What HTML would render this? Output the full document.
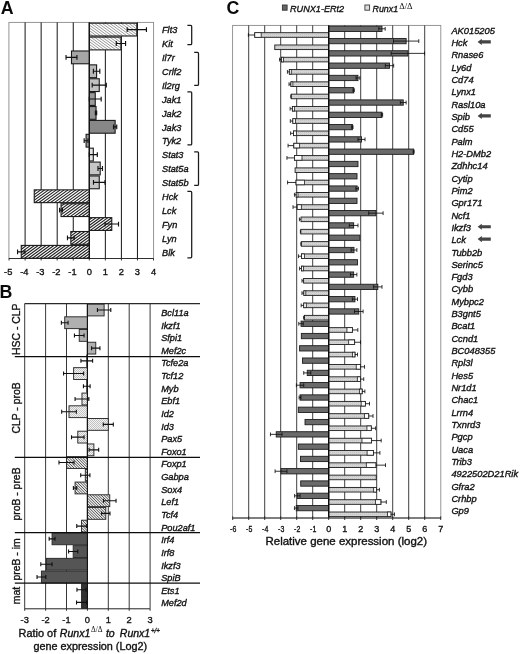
<!DOCTYPE html>
<html lang="en"><head><meta charset="utf-8"><title>Figure</title>
<style>html,body{margin:0;padding:0;background:#fff}body{width:520px;height:654px;overflow:hidden}</style></head>
<body>
<svg width="520" height="654" viewBox="0 0 520 654" style="display:block">
<defs>
<pattern id="dt" width="2" height="2" patternUnits="userSpaceOnUse"><rect width="2" height="2" fill="#f3f3f3"/><rect width="1" height="1" fill="#c2c2c2"/><rect x="1" y="1" width="1" height="1" fill="#c2c2c2"/></pattern>
<pattern id="lt" width="2" height="2" patternUnits="userSpaceOnUse"><rect width="2" height="2" fill="#d4d4d4"/><rect width="1" height="1" fill="#c4c4c4"/></pattern>
</defs>
<rect width="520" height="654" fill="#fff"/>
<text x="0.7" y="13.8" font-family="Liberation Sans, Arial, sans-serif" font-size="17.8" font-weight="bold" fill="#0a0a0a">A</text>
<rect x="8.9" y="22.4" width="144.7" height="236.1" fill="#fff" stroke="#8a8a8a" stroke-width="0.9"/>
<line x1="25.10" y1="22.4" x2="25.10" y2="258.5" stroke="#151515" stroke-width="1"/>
<line x1="41.15" y1="22.4" x2="41.15" y2="258.5" stroke="#151515" stroke-width="1"/>
<line x1="57.20" y1="22.4" x2="57.20" y2="258.5" stroke="#151515" stroke-width="1"/>
<line x1="73.25" y1="22.4" x2="73.25" y2="258.5" stroke="#151515" stroke-width="1"/>
<line x1="89.30" y1="22.4" x2="89.30" y2="258.5" stroke="#151515" stroke-width="1"/>
<line x1="105.35" y1="22.4" x2="105.35" y2="258.5" stroke="#151515" stroke-width="1"/>
<line x1="121.40" y1="22.4" x2="121.40" y2="258.5" stroke="#151515" stroke-width="1"/>
<line x1="137.45" y1="22.4" x2="137.45" y2="258.5" stroke="#151515" stroke-width="1"/>
<line x1="8.9" y1="258.5" x2="153.6" y2="258.5" stroke="#222" stroke-width="0.9"/>
<line x1="9.05" y1="258.5" x2="9.05" y2="260.5" stroke="#222" stroke-width="0.9"/>
<text x="8.25" y="275.2" font-family="Liberation Sans, Arial, sans-serif" stroke="#111" stroke-width="0.35" font-size="9.3" text-anchor="middle" fill="#111">-5</text>
<line x1="25.10" y1="258.5" x2="25.10" y2="260.5" stroke="#222" stroke-width="0.9"/>
<text x="24.30" y="275.2" font-family="Liberation Sans, Arial, sans-serif" stroke="#111" stroke-width="0.35" font-size="9.3" text-anchor="middle" fill="#111">-4</text>
<line x1="41.15" y1="258.5" x2="41.15" y2="260.5" stroke="#222" stroke-width="0.9"/>
<text x="40.35" y="275.2" font-family="Liberation Sans, Arial, sans-serif" stroke="#111" stroke-width="0.35" font-size="9.3" text-anchor="middle" fill="#111">-3</text>
<line x1="57.20" y1="258.5" x2="57.20" y2="260.5" stroke="#222" stroke-width="0.9"/>
<text x="56.40" y="275.2" font-family="Liberation Sans, Arial, sans-serif" stroke="#111" stroke-width="0.35" font-size="9.3" text-anchor="middle" fill="#111">-2</text>
<line x1="73.25" y1="258.5" x2="73.25" y2="260.5" stroke="#222" stroke-width="0.9"/>
<text x="72.45" y="275.2" font-family="Liberation Sans, Arial, sans-serif" stroke="#111" stroke-width="0.35" font-size="9.3" text-anchor="middle" fill="#111">-1</text>
<line x1="89.30" y1="258.5" x2="89.30" y2="260.5" stroke="#222" stroke-width="0.9"/>
<text x="89.30" y="275.2" font-family="Liberation Sans, Arial, sans-serif" stroke="#111" stroke-width="0.35" font-size="9.3" text-anchor="middle" fill="#111">0</text>
<line x1="105.35" y1="258.5" x2="105.35" y2="260.5" stroke="#222" stroke-width="0.9"/>
<text x="105.35" y="275.2" font-family="Liberation Sans, Arial, sans-serif" stroke="#111" stroke-width="0.35" font-size="9.3" text-anchor="middle" fill="#111">1</text>
<line x1="121.40" y1="258.5" x2="121.40" y2="260.5" stroke="#222" stroke-width="0.9"/>
<text x="121.40" y="275.2" font-family="Liberation Sans, Arial, sans-serif" stroke="#111" stroke-width="0.35" font-size="9.3" text-anchor="middle" fill="#111">2</text>
<line x1="137.45" y1="258.5" x2="137.45" y2="260.5" stroke="#222" stroke-width="0.9"/>
<text x="137.45" y="275.2" font-family="Liberation Sans, Arial, sans-serif" stroke="#111" stroke-width="0.35" font-size="9.3" text-anchor="middle" fill="#111">3</text>
<line x1="153.50" y1="258.5" x2="153.50" y2="260.5" stroke="#222" stroke-width="0.9"/>
<text x="153.50" y="275.2" font-family="Liberation Sans, Arial, sans-serif" stroke="#111" stroke-width="0.35" font-size="9.3" text-anchor="middle" fill="#111">4</text>
<clipPath id="hc1"><rect x="89.30" y="23.20" width="47.51" height="12.79"/><rect x="89.30" y="37.09" width="31.62" height="12.79"/></clipPath>
<g clip-path="url(#hc1)"><rect x="89.30" y="23.20" width="47.51" height="26.68" fill="#fdfdfd"/><path d="M52.58 23.20L89.30 49.88M56.38 23.20L93.10 49.88M60.18 23.20L96.90 49.88M63.98 23.20L100.70 49.88M67.78 23.20L104.50 49.88M71.58 23.20L108.30 49.88M75.38 23.20L112.10 49.88M79.18 23.20L115.90 49.88M82.98 23.20L119.70 49.88M86.78 23.20L123.50 49.88M90.58 23.20L127.30 49.88M94.38 23.20L131.10 49.88M98.18 23.20L134.90 49.88M101.98 23.20L138.70 49.88M105.78 23.20L142.50 49.88M109.58 23.20L146.30 49.88M113.38 23.20L150.10 49.88M117.18 23.20L153.90 49.88M120.98 23.20L157.70 49.88M124.78 23.20L161.50 49.88M128.58 23.20L165.30 49.88M132.38 23.20L169.10 49.88M136.18 23.20L172.90 49.88M139.98 23.20L176.70 49.88M143.78 23.20L180.50 49.88M147.58 23.20L184.30 49.88M151.38 23.20L188.10 49.88M155.18 23.20L191.90 49.88M158.98 23.20L195.70 49.88M162.78 23.20L199.50 49.88M166.58 23.20L203.30 49.88M170.38 23.20L207.10 49.88" stroke="#808080" stroke-width="0.8" fill="none"/></g>
<clipPath id="hc2"><rect x="34.25" y="189.86" width="55.05" height="12.79"/><rect x="61.05" y="203.75" width="28.25" height="12.79"/><rect x="89.30" y="217.64" width="22.47" height="12.79"/><rect x="70.84" y="231.52" width="18.46" height="12.79"/><rect x="21.25" y="245.41" width="68.05" height="12.79"/></clipPath>
<g clip-path="url(#hc2)"><rect x="21.25" y="189.86" width="90.52" height="68.34" fill="#fcfcfc"/><path d="M-72.82 258.20L21.25 189.86M-68.92 258.20L25.15 189.86M-65.02 258.20L29.05 189.86M-61.12 258.20L32.95 189.86M-57.22 258.20L36.85 189.86M-53.32 258.20L40.75 189.86M-49.42 258.20L44.65 189.86M-45.52 258.20L48.55 189.86M-41.62 258.20L52.45 189.86M-37.72 258.20L56.35 189.86M-33.82 258.20L60.25 189.86M-29.92 258.20L64.15 189.86M-26.02 258.20L68.05 189.86M-22.12 258.20L71.95 189.86M-18.22 258.20L75.85 189.86M-14.32 258.20L79.75 189.86M-10.42 258.20L83.65 189.86M-6.52 258.20L87.55 189.86M-2.62 258.20L91.45 189.86M1.28 258.20L95.35 189.86M5.18 258.20L99.25 189.86M9.08 258.20L103.15 189.86M12.98 258.20L107.05 189.86M16.88 258.20L110.95 189.86M20.78 258.20L114.85 189.86M24.68 258.20L118.75 189.86M28.58 258.20L122.65 189.86M32.48 258.20L126.55 189.86M36.38 258.20L130.45 189.86M40.28 258.20L134.35 189.86M44.18 258.20L138.25 189.86M48.08 258.20L142.15 189.86M51.98 258.20L146.05 189.86M55.88 258.20L149.95 189.86M59.78 258.20L153.85 189.86M63.68 258.20L157.75 189.86M67.58 258.20L161.65 189.86M71.48 258.20L165.55 189.86M75.38 258.20L169.45 189.86M79.28 258.20L173.35 189.86M83.18 258.20L177.25 189.86M87.08 258.20L181.15 189.86M90.98 258.20L185.05 189.86M94.88 258.20L188.95 189.86M98.78 258.20L192.85 189.86M102.68 258.20L196.75 189.86M106.58 258.20L200.65 189.86M110.48 258.20L204.55 189.86M114.38 258.20L208.45 189.86M118.28 258.20L212.35 189.86M122.18 258.20L216.25 189.86M126.08 258.20L220.15 189.86M129.98 258.20L224.05 189.86M133.88 258.20L227.95 189.86M137.78 258.20L231.85 189.86M141.68 258.20L235.75 189.86M145.58 258.20L239.65 189.86M149.48 258.20L243.55 189.86M153.38 258.20L247.45 189.86M157.28 258.20L251.35 189.86M161.18 258.20L255.25 189.86M165.08 258.20L259.15 189.86M168.98 258.20L263.05 189.86M172.88 258.20L266.95 189.86M176.78 258.20L270.85 189.86M180.68 258.20L274.75 189.86M184.58 258.20L278.65 189.86M188.48 258.20L282.55 189.86M192.38 258.20L286.45 189.86M196.28 258.20L290.35 189.86M200.18 258.20L294.25 189.86M204.08 258.20L298.15 189.86" stroke="#202020" stroke-width="1.15" fill="none"/></g>
<rect x="89.30" y="23.20" width="47.51" height="12.79" fill="none" stroke="#1a1a1a" stroke-width="1.1"/>
<path d="M127.18 29.59H146.44M127.18 27.19V31.99M146.44 27.19V31.99" stroke="#111" stroke-width="1.15" fill="none"/>
<text x="162" y="33.20" font-family="Liberation Sans, Arial, sans-serif" stroke="#111" stroke-width="0.35" font-size="9.2" font-style="italic" fill="#111">Flt3</text>
<rect x="89.30" y="37.09" width="31.62" height="12.79" fill="none" stroke="#1a1a1a" stroke-width="1.1"/>
<path d="M116.26 43.48H125.57M116.26 41.08V45.88M125.57 41.08V45.88" stroke="#111" stroke-width="1.15" fill="none"/>
<text x="162" y="47.10" font-family="Liberation Sans, Arial, sans-serif" stroke="#111" stroke-width="0.35" font-size="9.2" font-style="italic" fill="#111">Kit</text>
<rect x="71.48" y="50.98" width="17.82" height="12.79" fill="#a6a6a6" stroke="#1a1a1a" stroke-width="1.1"/>
<path d="M66.03 57.37H76.94M66.03 54.97V59.77M76.94 54.97V59.77" stroke="#111" stroke-width="1.15" fill="none"/>
<text x="162" y="61.00" font-family="Liberation Sans, Arial, sans-serif" stroke="#111" stroke-width="0.35" font-size="9.2" font-style="italic" fill="#111">Il7r</text>
<rect x="89.30" y="64.86" width="7.30" height="12.79" fill="#b9b9b9" stroke="#1a1a1a" stroke-width="1.1"/>
<path d="M93.39 71.26H99.81M93.39 68.86V73.66M99.81 68.86V73.66" stroke="#111" stroke-width="1.15" fill="none"/>
<text x="162" y="74.90" font-family="Liberation Sans, Arial, sans-serif" stroke="#111" stroke-width="0.35" font-size="9.2" font-style="italic" fill="#111">Crlf2</text>
<rect x="89.30" y="78.75" width="9.95" height="12.79" fill="#c2c2c2" stroke="#1a1a1a" stroke-width="1.1"/>
<path d="M92.19 85.15H106.31M92.19 82.75V87.55M106.31 82.75V87.55" stroke="#111" stroke-width="1.15" fill="none"/>
<text x="162" y="88.80" font-family="Liberation Sans, Arial, sans-serif" stroke="#111" stroke-width="0.35" font-size="9.2" font-style="italic" fill="#111">Il2rg</text>
<rect x="89.30" y="92.64" width="5.94" height="12.79" fill="#9a9a9a" stroke="#1a1a1a" stroke-width="1.1"/>
<path d="M89.30 99.04H101.18M89.30 96.64V101.44M101.18 96.64V101.44" stroke="#111" stroke-width="1.15" fill="none"/>
<text x="162" y="102.70" font-family="Liberation Sans, Arial, sans-serif" stroke="#111" stroke-width="0.35" font-size="9.2" font-style="italic" fill="#111">Jak1</text>
<rect x="89.30" y="106.53" width="6.74" height="12.79" fill="#949494" stroke="#1a1a1a" stroke-width="1.1"/>
<path d="M95.40 112.92H96.68M95.40 110.52V115.32M96.68 110.52V115.32" stroke="#111" stroke-width="1.15" fill="none"/>
<text x="162" y="116.60" font-family="Liberation Sans, Arial, sans-serif" stroke="#111" stroke-width="0.35" font-size="9.2" font-style="italic" fill="#111">Jak2</text>
<rect x="89.30" y="120.42" width="25.84" height="12.79" fill="#878787" stroke="#1a1a1a" stroke-width="1.1"/>
<path d="M113.54 126.81H116.75M113.54 124.41V129.21M116.75 124.41V129.21" stroke="#111" stroke-width="1.15" fill="none"/>
<text x="162" y="130.50" font-family="Liberation Sans, Arial, sans-serif" stroke="#111" stroke-width="0.35" font-size="9.2" font-style="italic" fill="#111">Jak3</text>
<rect x="86.09" y="134.31" width="3.21" height="12.79" fill="#9a9a9a" stroke="#1a1a1a" stroke-width="1.1"/>
<path d="M84.16 140.70H88.02M84.16 138.30V143.10M88.02 138.30V143.10" stroke="#111" stroke-width="1.15" fill="none"/>
<text x="162" y="144.40" font-family="Liberation Sans, Arial, sans-serif" stroke="#111" stroke-width="0.35" font-size="9.2" font-style="italic" fill="#111">Tyk2</text>
<rect x="89.30" y="148.19" width="4.01" height="12.79" fill="#e4e4e4" stroke="#1a1a1a" stroke-width="1.1"/>
<path d="M89.30 154.59H97.33M89.30 152.19V156.99M97.33 152.19V156.99" stroke="#111" stroke-width="1.15" fill="none"/>
<text x="162" y="158.30" font-family="Liberation Sans, Arial, sans-serif" stroke="#111" stroke-width="0.35" font-size="9.2" font-style="italic" fill="#111">Stat3</text>
<rect x="89.30" y="162.08" width="10.91" height="12.79" fill="#c6c6c6" stroke="#1a1a1a" stroke-width="1.1"/>
<path d="M97.97 168.48H102.46M97.97 166.08V170.88M102.46 166.08V170.88" stroke="#111" stroke-width="1.15" fill="none"/>
<text x="162" y="172.20" font-family="Liberation Sans, Arial, sans-serif" stroke="#111" stroke-width="0.35" font-size="9.2" font-style="italic" fill="#111">Stat5a</text>
<rect x="89.30" y="175.97" width="9.95" height="12.79" fill="#c6c6c6" stroke="#1a1a1a" stroke-width="1.1"/>
<path d="M93.47 182.36H105.03M93.47 179.96V184.76M105.03 179.96V184.76" stroke="#111" stroke-width="1.15" fill="none"/>
<text x="162" y="186.10" font-family="Liberation Sans, Arial, sans-serif" stroke="#111" stroke-width="0.35" font-size="9.2" font-style="italic" fill="#111">Stat5b</text>
<rect x="34.25" y="189.86" width="55.05" height="12.79" fill="none" stroke="#1a1a1a" stroke-width="1.1"/>
<text x="162" y="200.00" font-family="Liberation Sans, Arial, sans-serif" stroke="#111" stroke-width="0.35" font-size="9.2" font-style="italic" fill="#111">Hck</text>
<rect x="61.05" y="203.75" width="28.25" height="12.79" fill="none" stroke="#1a1a1a" stroke-width="1.1"/>
<path d="M59.61 210.14H62.50M59.61 207.74V212.54M62.50 207.74V212.54" stroke="#111" stroke-width="1.15" fill="none"/>
<text x="162" y="213.90" font-family="Liberation Sans, Arial, sans-serif" stroke="#111" stroke-width="0.35" font-size="9.2" font-style="italic" fill="#111">Lck</text>
<rect x="89.30" y="217.64" width="22.47" height="12.79" fill="none" stroke="#1a1a1a" stroke-width="1.1"/>
<path d="M105.03 224.03H118.51M105.03 221.63V226.43M118.51 221.63V226.43" stroke="#111" stroke-width="1.15" fill="none"/>
<text x="162" y="227.80" font-family="Liberation Sans, Arial, sans-serif" stroke="#111" stroke-width="0.35" font-size="9.2" font-style="italic" fill="#111">Fyn</text>
<rect x="70.84" y="231.52" width="18.46" height="12.79" fill="none" stroke="#1a1a1a" stroke-width="1.1"/>
<path d="M67.47 237.92H74.21M67.47 235.52V240.32M74.21 235.52V240.32" stroke="#111" stroke-width="1.15" fill="none"/>
<text x="162" y="241.70" font-family="Liberation Sans, Arial, sans-serif" stroke="#111" stroke-width="0.35" font-size="9.2" font-style="italic" fill="#111">Lyn</text>
<rect x="21.25" y="245.41" width="68.05" height="12.79" fill="none" stroke="#1a1a1a" stroke-width="1.1"/>
<path d="M17.56 251.81H24.94M17.56 249.41V254.21M24.94 249.41V254.21" stroke="#111" stroke-width="1.15" fill="none"/>
<text x="162" y="255.60" font-family="Liberation Sans, Arial, sans-serif" stroke="#111" stroke-width="0.35" font-size="9.2" font-style="italic" fill="#111">Blk</text>
<line x1="89.3" y1="22.4" x2="89.3" y2="258.5" stroke="#111" stroke-width="1"/>
<path d="M187.4 25.4H190.7Q191.7 25.4 191.7 26.4V43.7Q191.7 44.7 190.7 44.7H187.4" fill="none" stroke="#1a1a1a" stroke-width="1.25"/>
<path d="M194.2 52.4H197.5Q198.5 52.4 198.5 53.4V84.4Q198.5 85.4 197.5 85.4H194.2" fill="none" stroke="#1a1a1a" stroke-width="1.25"/>
<path d="M187.4 91.8H190.7Q191.7 91.8 191.7 92.8V143.9Q191.7 144.9 190.7 144.9H187.4" fill="none" stroke="#1a1a1a" stroke-width="1.25"/>
<path d="M194.2 151.8H197.5Q198.5 151.8 198.5 152.8V184.4Q198.5 185.4 197.5 185.4H194.2" fill="none" stroke="#1a1a1a" stroke-width="1.25"/>
<path d="M187.4 191.4H190.7Q191.7 191.4 191.7 192.4V256.8Q191.7 257.8 190.7 257.8H187.4" fill="none" stroke="#1a1a1a" stroke-width="1.25"/>
<text x="-0.5" y="298.2" font-family="Liberation Sans, Arial, sans-serif" font-size="17.8" font-weight="bold" fill="#0a0a0a">B</text>
<rect x="24.6" y="303.7" width="125.4" height="305.09999999999997" fill="#fff" stroke="none"/>
<line x1="24.70" y1="303.7" x2="24.70" y2="608.8" stroke="#222" stroke-width="0.9"/>
<line x1="45.60" y1="303.7" x2="45.60" y2="608.8" stroke="#222" stroke-width="0.9"/>
<line x1="66.50" y1="303.7" x2="66.50" y2="608.8" stroke="#222" stroke-width="0.9"/>
<line x1="87.40" y1="303.7" x2="87.40" y2="608.8" stroke="#222" stroke-width="0.9"/>
<line x1="108.30" y1="303.7" x2="108.30" y2="608.8" stroke="#222" stroke-width="0.9"/>
<line x1="129.20" y1="303.7" x2="129.20" y2="608.8" stroke="#222" stroke-width="0.9"/>
<line x1="150.10" y1="303.7" x2="150.10" y2="608.8" stroke="#222" stroke-width="0.9"/>
<clipPath id="hc3"><rect x="66.50" y="456.65" width="20.90" height="11.81"/><rect x="85.31" y="469.36" width="2.09" height="11.81"/><rect x="75.07" y="482.07" width="12.33" height="11.81"/><rect x="87.40" y="494.79" width="22.36" height="11.81"/><rect x="87.40" y="507.50" width="18.39" height="11.81"/><rect x="81.55" y="520.21" width="5.85" height="11.81"/></clipPath>
<g clip-path="url(#hc3)"><rect x="66.50" y="456.65" width="43.26" height="75.38" fill="#ebebeb"/><path d="M-8.88 456.65L66.50 532.02M-6.13 456.65L69.25 532.02M-3.38 456.65L72.00 532.02M-0.63 456.65L74.75 532.02M2.12 456.65L77.50 532.02M4.87 456.65L80.25 532.02M7.62 456.65L83.00 532.02M10.37 456.65L85.75 532.02M13.12 456.65L88.50 532.02M15.87 456.65L91.25 532.02M18.62 456.65L94.00 532.02M21.37 456.65L96.75 532.02M24.12 456.65L99.50 532.02M26.87 456.65L102.25 532.02M29.62 456.65L105.00 532.02M32.37 456.65L107.75 532.02M35.12 456.65L110.50 532.02M37.87 456.65L113.25 532.02M40.62 456.65L116.00 532.02M43.37 456.65L118.75 532.02M46.12 456.65L121.50 532.02M48.87 456.65L124.25 532.02M51.62 456.65L127.00 532.02M54.37 456.65L129.75 532.02M57.12 456.65L132.50 532.02M59.87 456.65L135.25 532.02M62.62 456.65L138.00 532.02M65.37 456.65L140.75 532.02M68.12 456.65L143.50 532.02M70.87 456.65L146.25 532.02M73.62 456.65L149.00 532.02M76.37 456.65L151.75 532.02M79.12 456.65L154.50 532.02M81.87 456.65L157.25 532.02M84.62 456.65L160.00 532.02M87.37 456.65L162.75 532.02M90.12 456.65L165.50 532.02M92.87 456.65L168.25 532.02M95.62 456.65L171.00 532.02M98.37 456.65L173.75 532.02M101.12 456.65L176.50 532.02M103.87 456.65L179.25 532.02M106.62 456.65L182.00 532.02M109.37 456.65L184.75 532.02M112.12 456.65L187.50 532.02M114.87 456.65L190.25 532.02M117.62 456.65L193.00 532.02M120.37 456.65L195.75 532.02M123.12 456.65L198.50 532.02M125.87 456.65L201.25 532.02M128.62 456.65L204.00 532.02M131.38 456.65L206.75 532.02M134.12 456.65L209.50 532.02M136.88 456.65L212.25 532.02M139.62 456.65L215.00 532.02M142.38 456.65L217.75 532.02M145.12 456.65L220.50 532.02M147.88 456.65L223.25 532.02M150.62 456.65L226.00 532.02M153.38 456.65L228.75 532.02M156.12 456.65L231.50 532.02M158.88 456.65L234.25 532.02M161.62 456.65L237.00 532.02M164.38 456.65L239.75 532.02M167.12 456.65L242.50 532.02M169.88 456.65L245.25 532.02M172.62 456.65L248.00 532.02M175.38 456.65L250.75 532.02M178.12 456.65L253.50 532.02M180.88 456.65L256.25 532.02M183.62 456.65L259.00 532.02" stroke="#464646" stroke-width="0.92" fill="none"/></g>
<rect x="87.40" y="304.10" width="16.72" height="11.81" fill="#b0b0b0" stroke="#2a2a2a" stroke-width="0.95"/>
<path d="M97.43 310.01H110.81M97.43 308.01V312.01M110.81 308.01V312.01" stroke="#111" stroke-width="1.1" fill="none"/>
<text x="161.2" y="315.90" font-family="Liberation Sans, Arial, sans-serif" stroke="#111" stroke-width="0.35" font-size="9.2" font-style="italic" fill="#111">Bcl11a</text>
<rect x="64.72" y="316.81" width="22.68" height="11.81" fill="#b0b0b0" stroke="#2a2a2a" stroke-width="0.95"/>
<path d="M61.38 322.72H68.07M61.38 320.72V324.72M68.07 320.72V324.72" stroke="#111" stroke-width="1.1" fill="none"/>
<text x="161.2" y="328.53" font-family="Liberation Sans, Arial, sans-serif" stroke="#111" stroke-width="0.35" font-size="9.2" font-style="italic" fill="#111">Ikzf1</text>
<rect x="79.25" y="329.52" width="8.15" height="11.81" fill="#b0b0b0" stroke="#2a2a2a" stroke-width="0.95"/>
<path d="M74.44 335.43H84.06M74.44 333.43V337.43M84.06 333.43V337.43" stroke="#111" stroke-width="1.1" fill="none"/>
<text x="161.2" y="341.16" font-family="Liberation Sans, Arial, sans-serif" stroke="#111" stroke-width="0.35" font-size="9.2" font-style="italic" fill="#111">Sfpi1</text>
<rect x="87.40" y="342.24" width="8.36" height="11.81" fill="#b0b0b0" stroke="#2a2a2a" stroke-width="0.95"/>
<path d="M91.58 348.14H99.94M91.58 346.14V350.14M99.94 346.14V350.14" stroke="#111" stroke-width="1.1" fill="none"/>
<text x="161.2" y="353.79" font-family="Liberation Sans, Arial, sans-serif" stroke="#111" stroke-width="0.35" font-size="9.2" font-style="italic" fill="#111">Mef2c</text>
<rect x="86.77" y="354.95" width="0.63" height="11.81" fill="url(#dt)" stroke="#2a2a2a" stroke-width="0.95"/>
<path d="M80.92 360.86H92.62M80.92 358.86V362.86M92.62 358.86V362.86" stroke="#111" stroke-width="1.1" fill="none"/>
<text x="161.2" y="366.42" font-family="Liberation Sans, Arial, sans-serif" stroke="#111" stroke-width="0.35" font-size="9.2" font-style="italic" fill="#111">Tcfe2a</text>
<rect x="73.61" y="367.66" width="13.79" height="11.81" fill="url(#dt)" stroke="#2a2a2a" stroke-width="0.95"/>
<path d="M63.57 373.57H83.64M63.57 371.57V375.57M83.64 371.57V375.57" stroke="#111" stroke-width="1.1" fill="none"/>
<text x="161.2" y="379.05" font-family="Liberation Sans, Arial, sans-serif" stroke="#111" stroke-width="0.35" font-size="9.2" font-style="italic" fill="#111">Tcf12</text>
<rect x="86.77" y="380.37" width="0.63" height="11.81" fill="url(#dt)" stroke="#2a2a2a" stroke-width="0.95"/>
<path d="M83.43 386.28H90.12M83.43 384.28V388.28M90.12 384.28V388.28" stroke="#111" stroke-width="1.1" fill="none"/>
<text x="161.2" y="391.68" font-family="Liberation Sans, Arial, sans-serif" stroke="#111" stroke-width="0.35" font-size="9.2" font-style="italic" fill="#111">Myb</text>
<rect x="81.97" y="393.09" width="5.43" height="11.81" fill="url(#dt)" stroke="#2a2a2a" stroke-width="0.95"/>
<path d="M75.07 398.99H88.86M75.07 396.99V400.99M88.86 396.99V400.99" stroke="#111" stroke-width="1.1" fill="none"/>
<text x="161.2" y="404.31" font-family="Liberation Sans, Arial, sans-serif" stroke="#111" stroke-width="0.35" font-size="9.2" font-style="italic" fill="#111">Ebf1</text>
<rect x="69.01" y="405.80" width="18.39" height="11.81" fill="url(#dt)" stroke="#2a2a2a" stroke-width="0.95"/>
<path d="M61.69 411.71H76.32M61.69 409.71V413.71M76.32 409.71V413.71" stroke="#111" stroke-width="1.1" fill="none"/>
<text x="161.2" y="416.94" font-family="Liberation Sans, Arial, sans-serif" stroke="#111" stroke-width="0.35" font-size="9.2" font-style="italic" fill="#111">Id2</text>
<rect x="87.40" y="418.51" width="20.90" height="11.81" fill="url(#dt)" stroke="#2a2a2a" stroke-width="0.95"/>
<path d="M103.28 424.42H113.32M103.28 422.42V426.42M113.32 422.42V426.42" stroke="#111" stroke-width="1.1" fill="none"/>
<text x="161.2" y="429.57" font-family="Liberation Sans, Arial, sans-serif" stroke="#111" stroke-width="0.35" font-size="9.2" font-style="italic" fill="#111">Id3</text>
<rect x="77.79" y="431.22" width="9.61" height="11.81" fill="url(#dt)" stroke="#2a2a2a" stroke-width="0.95"/>
<path d="M71.52 437.13H84.06M71.52 435.13V439.13M84.06 435.13V439.13" stroke="#111" stroke-width="1.1" fill="none"/>
<text x="161.2" y="442.20" font-family="Liberation Sans, Arial, sans-serif" stroke="#111" stroke-width="0.35" font-size="9.2" font-style="italic" fill="#111">Pax5</text>
<rect x="87.40" y="443.94" width="6.48" height="11.81" fill="url(#dt)" stroke="#2a2a2a" stroke-width="0.95"/>
<path d="M89.07 449.84H98.69M89.07 447.84V451.84M98.69 447.84V451.84" stroke="#111" stroke-width="1.1" fill="none"/>
<text x="161.2" y="454.83" font-family="Liberation Sans, Arial, sans-serif" stroke="#111" stroke-width="0.35" font-size="9.2" font-style="italic" fill="#111">Foxo1</text>
<rect x="66.50" y="456.65" width="20.90" height="11.81" fill="none" stroke="#2a2a2a" stroke-width="0.95"/>
<path d="M58.98 462.56H74.02M58.98 460.56V464.56M74.02 460.56V464.56" stroke="#111" stroke-width="1.1" fill="none"/>
<text x="161.2" y="467.46" font-family="Liberation Sans, Arial, sans-serif" stroke="#111" stroke-width="0.35" font-size="9.2" font-style="italic" fill="#111">Foxp1</text>
<rect x="85.31" y="469.36" width="2.09" height="11.81" fill="none" stroke="#2a2a2a" stroke-width="0.95"/>
<path d="M80.71 475.27H89.91M80.71 473.27V477.27M89.91 473.27V477.27" stroke="#111" stroke-width="1.1" fill="none"/>
<text x="161.2" y="480.09" font-family="Liberation Sans, Arial, sans-serif" stroke="#111" stroke-width="0.35" font-size="9.2" font-style="italic" fill="#111">Gabpa</text>
<rect x="75.07" y="482.07" width="12.33" height="11.81" fill="none" stroke="#2a2a2a" stroke-width="0.95"/>
<path d="M73.40 487.98H76.74M73.40 485.98V489.98M76.74 485.98V489.98" stroke="#111" stroke-width="1.1" fill="none"/>
<text x="161.2" y="492.72" font-family="Liberation Sans, Arial, sans-serif" stroke="#111" stroke-width="0.35" font-size="9.2" font-style="italic" fill="#111">Sox4</text>
<rect x="87.40" y="494.79" width="22.36" height="11.81" fill="none" stroke="#2a2a2a" stroke-width="0.95"/>
<path d="M103.49 500.69H116.03M103.49 498.69V502.69M116.03 498.69V502.69" stroke="#111" stroke-width="1.1" fill="none"/>
<text x="161.2" y="505.35" font-family="Liberation Sans, Arial, sans-serif" stroke="#111" stroke-width="0.35" font-size="9.2" font-style="italic" fill="#111">Lef1</text>
<rect x="87.40" y="507.50" width="18.39" height="11.81" fill="none" stroke="#2a2a2a" stroke-width="0.95"/>
<path d="M101.61 513.41H109.97M101.61 511.41V515.41M109.97 511.41V515.41" stroke="#111" stroke-width="1.1" fill="none"/>
<text x="161.2" y="517.98" font-family="Liberation Sans, Arial, sans-serif" stroke="#111" stroke-width="0.35" font-size="9.2" font-style="italic" fill="#111">Tcf4</text>
<rect x="81.55" y="520.21" width="5.85" height="11.81" fill="none" stroke="#2a2a2a" stroke-width="0.95"/>
<path d="M76.74 526.12H86.36M76.74 524.12V528.12M86.36 524.12V528.12" stroke="#111" stroke-width="1.1" fill="none"/>
<text x="161.2" y="530.61" font-family="Liberation Sans, Arial, sans-serif" stroke="#111" stroke-width="0.35" font-size="9.2" font-style="italic" fill="#111">Pou2af1</text>
<rect x="52.08" y="532.92" width="35.32" height="11.81" fill="#555" stroke="#2a2a2a" stroke-width="0.95"/>
<path d="M49.15 538.83H55.01M49.15 536.83V540.83M55.01 536.83V540.83" stroke="#111" stroke-width="1.1" fill="none"/>
<text x="161.2" y="543.24" font-family="Liberation Sans, Arial, sans-serif" stroke="#111" stroke-width="0.35" font-size="9.2" font-style="italic" fill="#111">Irf4</text>
<rect x="73.19" y="545.64" width="14.21" height="11.81" fill="#555" stroke="#2a2a2a" stroke-width="0.95"/>
<path d="M68.59 551.54H77.79M68.59 549.54V553.54M77.79 549.54V553.54" stroke="#111" stroke-width="1.1" fill="none"/>
<text x="161.2" y="555.87" font-family="Liberation Sans, Arial, sans-serif" stroke="#111" stroke-width="0.35" font-size="9.2" font-style="italic" fill="#111">Irf8</text>
<rect x="46.44" y="558.35" width="40.96" height="11.81" fill="#555" stroke="#2a2a2a" stroke-width="0.95"/>
<path d="M40.79 564.26H52.08M40.79 562.26V566.26M52.08 562.26V566.26" stroke="#111" stroke-width="1.1" fill="none"/>
<text x="161.2" y="568.50" font-family="Liberation Sans, Arial, sans-serif" stroke="#111" stroke-width="0.35" font-size="9.2" font-style="italic" fill="#111">Ikzf3</text>
<rect x="41.42" y="571.06" width="45.98" height="11.81" fill="#555" stroke="#2a2a2a" stroke-width="0.95"/>
<path d="M37.03 576.97H45.81M37.03 574.97V578.97M45.81 574.97V578.97" stroke="#111" stroke-width="1.1" fill="none"/>
<text x="161.2" y="581.13" font-family="Liberation Sans, Arial, sans-serif" stroke="#111" stroke-width="0.35" font-size="9.2" font-style="italic" fill="#111">SpiB</text>
<rect x="81.55" y="583.77" width="5.85" height="11.81" fill="#333" stroke="#2a2a2a" stroke-width="0.95"/>
<path d="M76.95 589.68H86.15M76.95 587.68V591.68M86.15 587.68V591.68" stroke="#111" stroke-width="1.1" fill="none"/>
<text x="161.2" y="593.76" font-family="Liberation Sans, Arial, sans-serif" stroke="#111" stroke-width="0.35" font-size="9.2" font-style="italic" fill="#111">Ets1</text>
<rect x="81.55" y="596.49" width="5.85" height="11.81" fill="#333" stroke="#2a2a2a" stroke-width="0.95"/>
<path d="M76.53 602.39H86.56M76.53 600.39V604.39M86.56 600.39V604.39" stroke="#111" stroke-width="1.1" fill="none"/>
<text x="161.2" y="606.39" font-family="Liberation Sans, Arial, sans-serif" stroke="#111" stroke-width="0.35" font-size="9.2" font-style="italic" fill="#111">Mef2d</text>
<line x1="87.4" y1="303.7" x2="87.4" y2="608.8" stroke="#111" stroke-width="1"/>
<line x1="24.6" y1="303.7" x2="200" y2="303.7" stroke="#2a2a2a" stroke-width="1.3"/>
<line x1="14.8" y1="356.5" x2="200" y2="356.5" stroke="#0c0c0c" stroke-width="1.25"/>
<line x1="14.8" y1="457.4" x2="200" y2="457.4" stroke="#0c0c0c" stroke-width="1.25"/>
<line x1="14.8" y1="532.5" x2="200" y2="532.5" stroke="#0c0c0c" stroke-width="1.25"/>
<line x1="14.8" y1="583.0" x2="200" y2="583.0" stroke="#0c0c0c" stroke-width="1.25"/>
<line x1="24.6" y1="608.8" x2="150.0" y2="608.8" stroke="#222" stroke-width="1"/>
<line x1="24.70" y1="608.8" x2="24.70" y2="610.8" stroke="#222" stroke-width="0.9"/>
<text x="24.70" y="622.8" font-family="Liberation Sans, Arial, sans-serif" stroke="#111" stroke-width="0.35" font-size="9.3" text-anchor="middle" fill="#111">-3</text>
<line x1="45.60" y1="608.8" x2="45.60" y2="610.8" stroke="#222" stroke-width="0.9"/>
<text x="45.60" y="622.8" font-family="Liberation Sans, Arial, sans-serif" stroke="#111" stroke-width="0.35" font-size="9.3" text-anchor="middle" fill="#111">-2</text>
<line x1="66.50" y1="608.8" x2="66.50" y2="610.8" stroke="#222" stroke-width="0.9"/>
<text x="66.50" y="622.8" font-family="Liberation Sans, Arial, sans-serif" stroke="#111" stroke-width="0.35" font-size="9.3" text-anchor="middle" fill="#111">-1</text>
<line x1="87.40" y1="608.8" x2="87.40" y2="610.8" stroke="#222" stroke-width="0.9"/>
<text x="87.40" y="622.8" font-family="Liberation Sans, Arial, sans-serif" stroke="#111" stroke-width="0.35" font-size="9.3" text-anchor="middle" fill="#111">0</text>
<line x1="108.30" y1="608.8" x2="108.30" y2="610.8" stroke="#222" stroke-width="0.9"/>
<text x="108.30" y="622.8" font-family="Liberation Sans, Arial, sans-serif" stroke="#111" stroke-width="0.35" font-size="9.3" text-anchor="middle" fill="#111">1</text>
<line x1="129.20" y1="608.8" x2="129.20" y2="610.8" stroke="#222" stroke-width="0.9"/>
<text x="129.20" y="622.8" font-family="Liberation Sans, Arial, sans-serif" stroke="#111" stroke-width="0.35" font-size="9.3" text-anchor="middle" fill="#111">2</text>
<line x1="150.10" y1="608.8" x2="150.10" y2="610.8" stroke="#222" stroke-width="0.9"/>
<text x="150.10" y="622.8" font-family="Liberation Sans, Arial, sans-serif" stroke="#111" stroke-width="0.35" font-size="9.3" text-anchor="middle" fill="#111">3</text>
<text transform="translate(19.9 329.2) rotate(-90)" font-family="Liberation Sans, Arial, sans-serif" stroke="#111" stroke-width="0.35" font-size="10.4" text-anchor="middle" fill="#111">HSC - CLP</text>
<text transform="translate(19.9 408) rotate(-90)" font-family="Liberation Sans, Arial, sans-serif" stroke="#111" stroke-width="0.35" font-size="10.4" text-anchor="middle" fill="#111">CLP - proB</text>
<text transform="translate(19.9 494) rotate(-90)" font-family="Liberation Sans, Arial, sans-serif" stroke="#111" stroke-width="0.35" font-size="10.4" text-anchor="middle" fill="#111">proB - preB</text>
<text transform="translate(19.9 559.4) rotate(-90)" font-family="Liberation Sans, Arial, sans-serif" stroke="#111" stroke-width="0.35" font-size="10.4" text-anchor="middle" fill="#111">preB - im</text>
<text transform="translate(19.9 595.6) rotate(-90)" font-family="Liberation Sans, Arial, sans-serif" stroke="#111" stroke-width="0.35" font-size="10.4" text-anchor="middle" fill="#111">mat</text>
<text x="18.6" y="636.6" font-family="Liberation Sans, Arial, sans-serif" stroke="#111" stroke-width="0.35" font-size="10.3" fill="#111" textLength="37.6" lengthAdjust="spacingAndGlyphs" >Ratio of</text>
<text x="59.8" y="636.6" font-family="Liberation Sans, Arial, sans-serif" stroke="#111" stroke-width="0.35" font-size="10.3" fill="#111" textLength="30.5" lengthAdjust="spacingAndGlyphs" font-style="italic">Runx1</text>
<text x="90.9" y="632.4" font-family="Liberation Serif, serif" font-size="7.6" fill="#111" textLength="11.6" lengthAdjust="spacingAndGlyphs">Δ/Δ</text>
<text x="105.9" y="636.6" font-family="Liberation Sans, Arial, sans-serif" stroke="#111" stroke-width="0.35" font-size="10.3" fill="#111" textLength="8.8" lengthAdjust="spacingAndGlyphs" font-style="italic">to</text>
<text x="119.8" y="636.6" font-family="Liberation Sans, Arial, sans-serif" stroke="#111" stroke-width="0.35" font-size="10.3" fill="#111" textLength="30.4" lengthAdjust="spacingAndGlyphs" font-style="italic">Runx1</text>
<text x="150.9" y="632.6" font-family="Liberation Sans, Arial, sans-serif" stroke="#111" stroke-width="0.35" font-size="7.2" fill="#111" textLength="9.0" lengthAdjust="spacingAndGlyphs" font-style="italic">+/+</text>
<text x="33.5" y="650.1" font-family="Liberation Sans, Arial, sans-serif" stroke="#111" stroke-width="0.35" font-size="10.3" fill="#111" textLength="113.6" lengthAdjust="spacingAndGlyphs">gene expression (Log2)</text>
<text x="226.4" y="14.0" font-family="Liberation Sans, Arial, sans-serif" font-size="17.8" font-weight="bold" fill="#0a0a0a">C</text>
<rect x="232.6" y="25.4" width="208.20000000000002" height="492.6" fill="#fff" stroke="#8a8a8a" stroke-width="0.9"/>
<line x1="248.70" y1="25.4" x2="248.70" y2="518.0" stroke="#2a2a2a" stroke-width="0.9"/>
<line x1="264.70" y1="25.4" x2="264.70" y2="518.0" stroke="#2a2a2a" stroke-width="0.9"/>
<line x1="280.70" y1="25.4" x2="280.70" y2="518.0" stroke="#2a2a2a" stroke-width="0.9"/>
<line x1="296.70" y1="25.4" x2="296.70" y2="518.0" stroke="#2a2a2a" stroke-width="0.9"/>
<line x1="312.70" y1="25.4" x2="312.70" y2="518.0" stroke="#2a2a2a" stroke-width="0.9"/>
<line x1="328.70" y1="25.4" x2="328.70" y2="518.0" stroke="#2a2a2a" stroke-width="0.9"/>
<line x1="344.70" y1="25.4" x2="344.70" y2="518.0" stroke="#2a2a2a" stroke-width="0.9"/>
<line x1="360.70" y1="25.4" x2="360.70" y2="518.0" stroke="#2a2a2a" stroke-width="0.9"/>
<line x1="376.70" y1="25.4" x2="376.70" y2="518.0" stroke="#2a2a2a" stroke-width="0.9"/>
<line x1="392.70" y1="25.4" x2="392.70" y2="518.0" stroke="#2a2a2a" stroke-width="0.9"/>
<line x1="408.70" y1="25.4" x2="408.70" y2="518.0" stroke="#2a2a2a" stroke-width="0.9"/>
<line x1="424.70" y1="25.4" x2="424.70" y2="518.0" stroke="#2a2a2a" stroke-width="0.9"/>
<rect x="328.70" y="26.15" width="53.28" height="5.30" fill="#6a6a6a" stroke="#1c1c1c" stroke-width="0.9"/>
<path d="M378.78 28.80H385.18M378.78 26.90V30.70M385.18 26.90V30.70" stroke="#111" stroke-width="0.85" fill="none"/>
<rect x="254.78" y="32.70" width="73.92" height="4.60" fill="url(#lt)" stroke="#1c1c1c" stroke-width="0.9"/>
<rect x="254.78" y="32.70" width="6.40" height="4.60" fill="#fff" stroke="#1e1e1e" stroke-width="0.8"/>
<path d="M254.78 35.00H248.38M248.38 33.10V36.90" stroke="#111" stroke-width="0.85" fill="none"/>
<text x="451.4" y="33.75" font-family="Liberation Sans, Arial, sans-serif" stroke="#111" stroke-width="0.35" font-size="9.3" font-style="italic" fill="#111">AK015205</text>
<rect x="328.70" y="38.44" width="77.44" height="5.30" fill="#6a6a6a" stroke="#1c1c1c" stroke-width="0.9"/>
<path d="M393.50 41.09H418.78M393.50 39.19V42.99M418.78 39.19V42.99" stroke="#111" stroke-width="0.85" fill="none"/>
<rect x="274.78" y="44.99" width="53.92" height="4.60" fill="url(#lt)" stroke="#1c1c1c" stroke-width="0.9"/>
<text x="451.4" y="46.07" font-family="Liberation Sans, Arial, sans-serif" stroke="#111" stroke-width="0.35" font-size="9.3" font-style="italic" fill="#111">Hck</text>
<path d="M477.6 41.97l4.2 -3.1v1.5h9v3.2h-9v1.5z" fill="#444"/>
<rect x="328.70" y="50.73" width="79.20" height="5.30" fill="#6a6a6a" stroke="#1c1c1c" stroke-width="0.9"/>
<path d="M391.26 53.38H424.54M391.26 51.48V55.28M424.54 51.48V55.28" stroke="#111" stroke-width="0.85" fill="none"/>
<rect x="281.50" y="57.28" width="47.20" height="4.60" fill="url(#lt)" stroke="#1c1c1c" stroke-width="0.9"/>
<rect x="281.50" y="57.28" width="1.92" height="4.60" fill="#fff" stroke="#1e1e1e" stroke-width="0.8"/>
<path d="M281.50 59.58H279.58M279.58 57.68V61.48" stroke="#111" stroke-width="0.85" fill="none"/>
<text x="451.4" y="58.39" font-family="Liberation Sans, Arial, sans-serif" stroke="#111" stroke-width="0.35" font-size="9.3" font-style="italic" fill="#111">Rnase6</text>
<rect x="328.70" y="63.02" width="60.80" height="5.30" fill="#6a6a6a" stroke="#1c1c1c" stroke-width="0.9"/>
<path d="M385.34 65.67H393.66M385.34 63.77V67.57M393.66 63.77V67.57" stroke="#111" stroke-width="0.85" fill="none"/>
<rect x="289.34" y="69.57" width="39.36" height="4.60" fill="url(#lt)" stroke="#1c1c1c" stroke-width="0.9"/>
<rect x="289.34" y="69.57" width="1.92" height="4.60" fill="#fff" stroke="#1e1e1e" stroke-width="0.8"/>
<path d="M289.34 71.87H287.42M287.42 69.97V73.77" stroke="#111" stroke-width="0.85" fill="none"/>
<text x="451.4" y="70.71" font-family="Liberation Sans, Arial, sans-serif" stroke="#111" stroke-width="0.35" font-size="9.3" font-style="italic" fill="#111">Ly6d</text>
<rect x="328.70" y="75.31" width="29.28" height="5.30" fill="#6a6a6a" stroke="#1c1c1c" stroke-width="0.9"/>
<path d="M356.06 77.96H359.90M356.06 76.06V79.86M359.90 76.06V79.86" stroke="#111" stroke-width="0.85" fill="none"/>
<rect x="290.94" y="81.86" width="37.76" height="4.60" fill="url(#lt)" stroke="#1c1c1c" stroke-width="0.9"/>
<rect x="290.94" y="81.86" width="1.92" height="4.60" fill="#fff" stroke="#1e1e1e" stroke-width="0.8"/>
<path d="M290.94 84.16H289.02M289.02 82.26V86.06" stroke="#111" stroke-width="0.85" fill="none"/>
<text x="451.4" y="83.03" font-family="Liberation Sans, Arial, sans-serif" stroke="#111" stroke-width="0.35" font-size="9.3" font-style="italic" fill="#111">Cd74</text>
<rect x="328.70" y="87.60" width="24.96" height="5.30" fill="#6a6a6a" stroke="#1c1c1c" stroke-width="0.9"/>
<path d="M353.02 90.25H354.30M353.02 88.35V92.15M354.30 88.35V92.15" stroke="#111" stroke-width="0.85" fill="none"/>
<rect x="291.26" y="94.15" width="37.44" height="4.60" fill="url(#lt)" stroke="#1c1c1c" stroke-width="0.9"/>
<path d="M291.26 96.45H290.78M290.78 94.55V98.35" stroke="#111" stroke-width="0.85" fill="none"/>
<text x="451.4" y="95.35" font-family="Liberation Sans, Arial, sans-serif" stroke="#111" stroke-width="0.35" font-size="9.3" font-style="italic" fill="#111">Lynx1</text>
<rect x="328.70" y="99.89" width="74.56" height="5.30" fill="#6a6a6a" stroke="#1c1c1c" stroke-width="0.9"/>
<path d="M400.38 102.54H406.14M400.38 100.64V104.44M406.14 100.64V104.44" stroke="#111" stroke-width="0.85" fill="none"/>
<rect x="292.38" y="106.44" width="36.32" height="4.60" fill="url(#lt)" stroke="#1c1c1c" stroke-width="0.9"/>
<rect x="292.38" y="106.44" width="2.24" height="4.60" fill="#fff" stroke="#1e1e1e" stroke-width="0.8"/>
<path d="M292.38 108.74H290.14M290.14 106.84V110.64" stroke="#111" stroke-width="0.85" fill="none"/>
<text x="451.4" y="107.67" font-family="Liberation Sans, Arial, sans-serif" stroke="#111" stroke-width="0.35" font-size="9.3" font-style="italic" fill="#111">Rasl10a</text>
<rect x="328.70" y="112.18" width="53.28" height="5.30" fill="#6a6a6a" stroke="#1c1c1c" stroke-width="0.9"/>
<path d="M381.34 114.83H382.62M381.34 112.93V116.73M382.62 112.93V116.73" stroke="#111" stroke-width="0.85" fill="none"/>
<rect x="292.86" y="118.73" width="35.84" height="4.60" fill="url(#lt)" stroke="#1c1c1c" stroke-width="0.9"/>
<rect x="292.86" y="118.73" width="2.56" height="4.60" fill="#fff" stroke="#1e1e1e" stroke-width="0.8"/>
<path d="M292.86 121.03H290.30M290.30 119.13V122.93" stroke="#111" stroke-width="0.85" fill="none"/>
<text x="451.4" y="119.99" font-family="Liberation Sans, Arial, sans-serif" stroke="#111" stroke-width="0.35" font-size="9.3" font-style="italic" fill="#111">Spib</text>
<path d="M477.6 115.89l4.2 -3.1v1.5h9v3.2h-9v1.5z" fill="#444"/>
<rect x="328.70" y="124.47" width="23.68" height="5.30" fill="#6a6a6a" stroke="#1c1c1c" stroke-width="0.9"/>
<path d="M351.74 127.12H353.02M351.74 125.22V129.02M353.02 125.22V129.02" stroke="#111" stroke-width="0.85" fill="none"/>
<rect x="293.50" y="131.02" width="35.20" height="4.60" fill="url(#lt)" stroke="#1c1c1c" stroke-width="0.9"/>
<rect x="293.50" y="131.02" width="2.88" height="4.60" fill="#fff" stroke="#1e1e1e" stroke-width="0.8"/>
<path d="M293.50 133.32H290.62M290.62 131.42V135.22" stroke="#111" stroke-width="0.85" fill="none"/>
<text x="451.4" y="132.31" font-family="Liberation Sans, Arial, sans-serif" stroke="#111" stroke-width="0.35" font-size="9.3" font-style="italic" fill="#111">Cd55</text>
<rect x="328.70" y="136.76" width="32.80" height="5.30" fill="#6a6a6a" stroke="#1c1c1c" stroke-width="0.9"/>
<path d="M357.98 139.41H365.02M357.98 137.51V141.31M365.02 137.51V141.31" stroke="#111" stroke-width="0.85" fill="none"/>
<rect x="293.82" y="143.31" width="34.88" height="4.60" fill="url(#lt)" stroke="#1c1c1c" stroke-width="0.9"/>
<rect x="293.82" y="143.31" width="5.76" height="4.60" fill="#fff" stroke="#1e1e1e" stroke-width="0.8"/>
<path d="M293.82 145.61H288.06M288.06 143.71V147.51" stroke="#111" stroke-width="0.85" fill="none"/>
<text x="451.4" y="144.63" font-family="Liberation Sans, Arial, sans-serif" stroke="#111" stroke-width="0.35" font-size="9.3" font-style="italic" fill="#111">Palm</text>
<rect x="328.70" y="149.05" width="84.96" height="5.30" fill="#6a6a6a" stroke="#1c1c1c" stroke-width="0.9"/>
<path d="M413.18 151.70H414.14M413.18 149.80V153.60M414.14 149.80V153.60" stroke="#111" stroke-width="0.85" fill="none"/>
<rect x="294.46" y="155.60" width="34.24" height="4.60" fill="url(#lt)" stroke="#1c1c1c" stroke-width="0.9"/>
<rect x="294.46" y="155.60" width="7.52" height="4.60" fill="#fff" stroke="#1e1e1e" stroke-width="0.8"/>
<path d="M294.46 157.90H286.94M286.94 156.00V159.80" stroke="#111" stroke-width="0.85" fill="none"/>
<text x="451.4" y="156.95" font-family="Liberation Sans, Arial, sans-serif" stroke="#111" stroke-width="0.35" font-size="9.3" font-style="italic" fill="#111">H2-DMb2</text>
<rect x="328.70" y="161.34" width="29.28" height="5.30" fill="#6a6a6a" stroke="#1c1c1c" stroke-width="0.9"/>
<rect x="295.10" y="167.89" width="33.60" height="4.60" fill="url(#lt)" stroke="#1c1c1c" stroke-width="0.9"/>
<text x="451.4" y="169.27" font-family="Liberation Sans, Arial, sans-serif" stroke="#111" stroke-width="0.35" font-size="9.3" font-style="italic" fill="#111">Zdhhc14</text>
<rect x="328.70" y="173.63" width="28.32" height="5.30" fill="#6a6a6a" stroke="#1c1c1c" stroke-width="0.9"/>
<rect x="296.06" y="180.18" width="32.64" height="4.60" fill="url(#lt)" stroke="#1c1c1c" stroke-width="0.9"/>
<rect x="296.06" y="180.18" width="8.48" height="4.60" fill="#fff" stroke="#1e1e1e" stroke-width="0.8"/>
<path d="M296.06 182.48H287.58M287.58 180.58V184.38" stroke="#111" stroke-width="0.85" fill="none"/>
<text x="451.4" y="181.59" font-family="Liberation Sans, Arial, sans-serif" stroke="#111" stroke-width="0.35" font-size="9.3" font-style="italic" fill="#111">Cytip</text>
<rect x="328.70" y="185.92" width="28.48" height="5.30" fill="#6a6a6a" stroke="#1c1c1c" stroke-width="0.9"/>
<path d="M355.90 188.57H358.46M355.90 186.67V190.47M358.46 186.67V190.47" stroke="#111" stroke-width="0.85" fill="none"/>
<rect x="296.22" y="192.47" width="32.48" height="4.60" fill="url(#lt)" stroke="#1c1c1c" stroke-width="0.9"/>
<rect x="296.22" y="192.47" width="1.76" height="4.60" fill="#fff" stroke="#1e1e1e" stroke-width="0.8"/>
<path d="M296.22 194.77H294.46M294.46 192.87V196.67" stroke="#111" stroke-width="0.85" fill="none"/>
<text x="451.4" y="193.91" font-family="Liberation Sans, Arial, sans-serif" stroke="#111" stroke-width="0.35" font-size="9.3" font-style="italic" fill="#111">Pim2</text>
<rect x="328.70" y="198.21" width="28.32" height="5.30" fill="#6a6a6a" stroke="#1c1c1c" stroke-width="0.9"/>
<rect x="297.18" y="204.76" width="31.52" height="4.60" fill="url(#lt)" stroke="#1c1c1c" stroke-width="0.9"/>
<rect x="297.18" y="204.76" width="4.16" height="4.60" fill="#fff" stroke="#1e1e1e" stroke-width="0.8"/>
<path d="M297.18 207.06H293.02M293.02 205.16V208.96" stroke="#111" stroke-width="0.85" fill="none"/>
<text x="451.4" y="206.23" font-family="Liberation Sans, Arial, sans-serif" stroke="#111" stroke-width="0.35" font-size="9.3" font-style="italic" fill="#111">Gpr171</text>
<rect x="328.70" y="210.50" width="47.20" height="5.30" fill="#6a6a6a" stroke="#1c1c1c" stroke-width="0.9"/>
<path d="M368.70 213.15H383.10M368.70 211.25V215.05M383.10 211.25V215.05" stroke="#111" stroke-width="0.85" fill="none"/>
<rect x="301.02" y="217.05" width="27.68" height="4.60" fill="url(#lt)" stroke="#1c1c1c" stroke-width="0.9"/>
<path d="M301.02 219.35H299.42M299.42 217.45V221.25" stroke="#111" stroke-width="0.85" fill="none"/>
<text x="451.4" y="218.55" font-family="Liberation Sans, Arial, sans-serif" stroke="#111" stroke-width="0.35" font-size="9.3" font-style="italic" fill="#111">Ncf1</text>
<rect x="328.70" y="222.79" width="24.96" height="5.30" fill="#6a6a6a" stroke="#1c1c1c" stroke-width="0.9"/>
<path d="M349.34 225.44H357.98M349.34 223.54V227.34M357.98 223.54V227.34" stroke="#111" stroke-width="0.85" fill="none"/>
<rect x="300.86" y="229.34" width="27.84" height="4.60" fill="url(#lt)" stroke="#1c1c1c" stroke-width="0.9"/>
<path d="M300.86 231.64H300.38M300.38 229.74V233.54" stroke="#111" stroke-width="0.85" fill="none"/>
<text x="451.4" y="230.87" font-family="Liberation Sans, Arial, sans-serif" stroke="#111" stroke-width="0.35" font-size="9.3" font-style="italic" fill="#111">Ikzf3</text>
<path d="M477.6 226.77l4.2 -3.1v1.5h9v3.2h-9v1.5z" fill="#444"/>
<rect x="328.70" y="235.08" width="31.20" height="5.30" fill="#6a6a6a" stroke="#1c1c1c" stroke-width="0.9"/>
<rect x="301.34" y="241.63" width="27.36" height="4.60" fill="url(#lt)" stroke="#1c1c1c" stroke-width="0.9"/>
<path d="M301.34 243.93H300.86M300.86 242.03V245.83" stroke="#111" stroke-width="0.85" fill="none"/>
<text x="451.4" y="243.19" font-family="Liberation Sans, Arial, sans-serif" stroke="#111" stroke-width="0.35" font-size="9.3" font-style="italic" fill="#111">Lck</text>
<path d="M477.6 239.09l4.2 -3.1v1.5h9v3.2h-9v1.5z" fill="#444"/>
<rect x="328.70" y="247.37" width="25.28" height="5.30" fill="#6a6a6a" stroke="#1c1c1c" stroke-width="0.9"/>
<path d="M351.10 250.02H356.86M351.10 248.12V251.92M356.86 248.12V251.92" stroke="#111" stroke-width="0.85" fill="none"/>
<rect x="301.50" y="253.92" width="27.20" height="4.60" fill="url(#lt)" stroke="#1c1c1c" stroke-width="0.9"/>
<rect x="301.50" y="253.92" width="3.04" height="4.60" fill="#fff" stroke="#1e1e1e" stroke-width="0.8"/>
<path d="M301.50 256.22H298.46M298.46 254.32V258.12" stroke="#111" stroke-width="0.85" fill="none"/>
<text x="451.4" y="255.51" font-family="Liberation Sans, Arial, sans-serif" stroke="#111" stroke-width="0.35" font-size="9.3" font-style="italic" fill="#111">Tubb2b</text>
<rect x="328.70" y="259.66" width="28.80" height="5.30" fill="#6a6a6a" stroke="#1c1c1c" stroke-width="0.9"/>
<rect x="301.50" y="266.21" width="27.20" height="4.60" fill="url(#lt)" stroke="#1c1c1c" stroke-width="0.9"/>
<rect x="301.50" y="266.21" width="1.92" height="4.60" fill="#fff" stroke="#1e1e1e" stroke-width="0.8"/>
<path d="M301.50 268.51H299.58M299.58 266.61V270.41" stroke="#111" stroke-width="0.85" fill="none"/>
<text x="451.4" y="267.83" font-family="Liberation Sans, Arial, sans-serif" stroke="#111" stroke-width="0.35" font-size="9.3" font-style="italic" fill="#111">Serinc5</text>
<rect x="328.70" y="271.95" width="24.96" height="5.30" fill="#6a6a6a" stroke="#1c1c1c" stroke-width="0.9"/>
<path d="M350.46 274.60H356.86M350.46 272.70V276.50M356.86 272.70V276.50" stroke="#111" stroke-width="0.85" fill="none"/>
<rect x="303.58" y="278.50" width="25.12" height="4.60" fill="url(#lt)" stroke="#1c1c1c" stroke-width="0.9"/>
<path d="M303.58 280.80H301.98M301.98 278.90V282.70" stroke="#111" stroke-width="0.85" fill="none"/>
<text x="451.4" y="280.15" font-family="Liberation Sans, Arial, sans-serif" stroke="#111" stroke-width="0.35" font-size="9.3" font-style="italic" fill="#111">Fgd3</text>
<rect x="328.70" y="284.24" width="49.12" height="5.30" fill="#6a6a6a" stroke="#1c1c1c" stroke-width="0.9"/>
<path d="M373.66 286.89H381.98M373.66 284.99V288.79M381.98 284.99V288.79" stroke="#111" stroke-width="0.85" fill="none"/>
<rect x="303.90" y="290.79" width="24.80" height="4.60" fill="url(#lt)" stroke="#1c1c1c" stroke-width="0.9"/>
<rect x="303.90" y="290.79" width="1.92" height="4.60" fill="#fff" stroke="#1e1e1e" stroke-width="0.8"/>
<path d="M303.90 293.09H301.98M301.98 291.19V294.99" stroke="#111" stroke-width="0.85" fill="none"/>
<text x="451.4" y="292.47" font-family="Liberation Sans, Arial, sans-serif" stroke="#111" stroke-width="0.35" font-size="9.3" font-style="italic" fill="#111">Cybb</text>
<rect x="328.70" y="296.53" width="26.24" height="5.30" fill="#6a6a6a" stroke="#1c1c1c" stroke-width="0.9"/>
<path d="M352.38 299.18H357.50M352.38 297.28V301.08M357.50 297.28V301.08" stroke="#111" stroke-width="0.85" fill="none"/>
<rect x="303.74" y="303.08" width="24.96" height="4.60" fill="url(#lt)" stroke="#1c1c1c" stroke-width="0.9"/>
<rect x="303.74" y="303.08" width="2.56" height="4.60" fill="#fff" stroke="#1e1e1e" stroke-width="0.8"/>
<path d="M303.74 305.38H301.18M301.18 303.48V307.28" stroke="#111" stroke-width="0.85" fill="none"/>
<text x="451.4" y="304.79" font-family="Liberation Sans, Arial, sans-serif" stroke="#111" stroke-width="0.35" font-size="9.3" font-style="italic" fill="#111">Mybpc2</text>
<rect x="328.70" y="308.82" width="30.08" height="5.30" fill="#6a6a6a" stroke="#1c1c1c" stroke-width="0.9"/>
<path d="M354.46 311.47H363.10M354.46 309.57V313.37M363.10 309.57V313.37" stroke="#111" stroke-width="0.85" fill="none"/>
<rect x="304.54" y="315.37" width="24.16" height="4.60" fill="url(#lt)" stroke="#1c1c1c" stroke-width="0.9"/>
<path d="M304.54 317.67H303.58M303.58 315.77V319.57" stroke="#111" stroke-width="0.85" fill="none"/>
<text x="451.4" y="317.11" font-family="Liberation Sans, Arial, sans-serif" stroke="#111" stroke-width="0.35" font-size="9.3" font-style="italic" fill="#111">B3gnt5</text>
<rect x="301.02" y="321.11" width="27.68" height="5.30" fill="#6a6a6a" stroke="#1c1c1c" stroke-width="0.9"/>
<path d="M298.78 323.76H303.26M298.78 321.86V325.66M303.26 321.86V325.66" stroke="#111" stroke-width="0.85" fill="none"/>
<rect x="328.70" y="327.66" width="23.68" height="4.60" fill="url(#lt)" stroke="#1c1c1c" stroke-width="0.9"/>
<rect x="346.94" y="327.66" width="5.44" height="4.60" fill="#fff" stroke="#1e1e1e" stroke-width="0.8"/>
<path d="M352.38 329.96H357.82M357.82 328.06V331.86" stroke="#111" stroke-width="0.85" fill="none"/>
<text x="451.4" y="329.43" font-family="Liberation Sans, Arial, sans-serif" stroke="#111" stroke-width="0.35" font-size="9.3" font-style="italic" fill="#111">Bcat1</text>
<rect x="301.34" y="333.40" width="27.36" height="5.30" fill="#6a6a6a" stroke="#1c1c1c" stroke-width="0.9"/>
<rect x="328.70" y="339.95" width="25.92" height="4.60" fill="url(#lt)" stroke="#1c1c1c" stroke-width="0.9"/>
<rect x="348.70" y="339.95" width="5.92" height="4.60" fill="#fff" stroke="#1e1e1e" stroke-width="0.8"/>
<path d="M354.62 342.25H360.54M360.54 340.35V344.15" stroke="#111" stroke-width="0.85" fill="none"/>
<text x="451.4" y="341.75" font-family="Liberation Sans, Arial, sans-serif" stroke="#111" stroke-width="0.35" font-size="9.3" font-style="italic" fill="#111">Ccnd1</text>
<rect x="299.58" y="345.69" width="29.12" height="5.30" fill="#6a6a6a" stroke="#1c1c1c" stroke-width="0.9"/>
<rect x="328.70" y="352.24" width="26.24" height="4.60" fill="url(#lt)" stroke="#1c1c1c" stroke-width="0.9"/>
<rect x="352.38" y="352.24" width="2.56" height="4.60" fill="#fff" stroke="#1e1e1e" stroke-width="0.8"/>
<path d="M354.94 354.54H357.50M357.50 352.64V356.44" stroke="#111" stroke-width="0.85" fill="none"/>
<text x="451.4" y="354.07" font-family="Liberation Sans, Arial, sans-serif" stroke="#111" stroke-width="0.35" font-size="9.3" font-style="italic" fill="#111">BC048355</text>
<rect x="302.46" y="357.98" width="26.24" height="5.30" fill="#6a6a6a" stroke="#1c1c1c" stroke-width="0.9"/>
<rect x="328.70" y="364.53" width="31.68" height="4.60" fill="url(#lt)" stroke="#1c1c1c" stroke-width="0.9"/>
<rect x="356.22" y="364.53" width="4.16" height="4.60" fill="#fff" stroke="#1e1e1e" stroke-width="0.8"/>
<path d="M360.38 366.83H364.54M364.54 364.93V368.73" stroke="#111" stroke-width="0.85" fill="none"/>
<text x="451.4" y="366.39" font-family="Liberation Sans, Arial, sans-serif" stroke="#111" stroke-width="0.35" font-size="9.3" font-style="italic" fill="#111">Rpl3l</text>
<rect x="307.26" y="370.27" width="21.44" height="5.30" fill="#6a6a6a" stroke="#1c1c1c" stroke-width="0.9"/>
<path d="M303.74 372.92H310.78M303.74 371.02V374.82M310.78 371.02V374.82" stroke="#111" stroke-width="0.85" fill="none"/>
<rect x="328.70" y="376.82" width="31.84" height="4.60" fill="url(#lt)" stroke="#1c1c1c" stroke-width="0.9"/>
<rect x="357.34" y="376.82" width="3.20" height="4.60" fill="#fff" stroke="#1e1e1e" stroke-width="0.8"/>
<path d="M360.54 379.12H363.74M363.74 377.22V381.02" stroke="#111" stroke-width="0.85" fill="none"/>
<text x="451.4" y="378.71" font-family="Liberation Sans, Arial, sans-serif" stroke="#111" stroke-width="0.35" font-size="9.3" font-style="italic" fill="#111">Hes5</text>
<rect x="300.06" y="382.56" width="28.64" height="5.30" fill="#6a6a6a" stroke="#1c1c1c" stroke-width="0.9"/>
<path d="M296.38 385.21H303.74M296.38 383.31V387.11M303.74 383.31V387.11" stroke="#111" stroke-width="0.85" fill="none"/>
<rect x="328.70" y="389.11" width="33.44" height="4.60" fill="url(#lt)" stroke="#1c1c1c" stroke-width="0.9"/>
<rect x="359.42" y="389.11" width="2.72" height="4.60" fill="#fff" stroke="#1e1e1e" stroke-width="0.8"/>
<path d="M362.14 391.41H364.86M364.86 389.51V393.31" stroke="#111" stroke-width="0.85" fill="none"/>
<text x="451.4" y="391.03" font-family="Liberation Sans, Arial, sans-serif" stroke="#111" stroke-width="0.35" font-size="9.3" font-style="italic" fill="#111">Nr1d1</text>
<rect x="300.06" y="394.85" width="28.64" height="5.30" fill="#6a6a6a" stroke="#1c1c1c" stroke-width="0.9"/>
<path d="M299.10 397.50H301.02M299.10 395.60V399.40M301.02 395.60V399.40" stroke="#111" stroke-width="0.85" fill="none"/>
<rect x="328.70" y="401.40" width="36.64" height="4.60" fill="url(#lt)" stroke="#1c1c1c" stroke-width="0.9"/>
<rect x="361.18" y="401.40" width="4.16" height="4.60" fill="#fff" stroke="#1e1e1e" stroke-width="0.8"/>
<path d="M365.34 403.70H369.50M369.50 401.80V405.60" stroke="#111" stroke-width="0.85" fill="none"/>
<text x="451.4" y="403.35" font-family="Liberation Sans, Arial, sans-serif" stroke="#111" stroke-width="0.35" font-size="9.3" font-style="italic" fill="#111">Chac1</text>
<rect x="298.30" y="407.14" width="30.40" height="5.30" fill="#6a6a6a" stroke="#1c1c1c" stroke-width="0.9"/>
<rect x="328.70" y="413.69" width="40.00" height="4.60" fill="url(#lt)" stroke="#1c1c1c" stroke-width="0.9"/>
<rect x="364.38" y="413.69" width="4.32" height="4.60" fill="#fff" stroke="#1e1e1e" stroke-width="0.8"/>
<path d="M368.70 415.99H373.02M373.02 414.09V417.89" stroke="#111" stroke-width="0.85" fill="none"/>
<text x="451.4" y="415.67" font-family="Liberation Sans, Arial, sans-serif" stroke="#111" stroke-width="0.35" font-size="9.3" font-style="italic" fill="#111">Lrrn4</text>
<rect x="305.02" y="419.43" width="23.68" height="5.30" fill="#6a6a6a" stroke="#1c1c1c" stroke-width="0.9"/>
<rect x="328.70" y="425.98" width="42.56" height="4.60" fill="url(#lt)" stroke="#1c1c1c" stroke-width="0.9"/>
<rect x="366.94" y="425.98" width="4.32" height="4.60" fill="#fff" stroke="#1e1e1e" stroke-width="0.8"/>
<path d="M371.26 428.28H375.58M375.58 426.38V430.18" stroke="#111" stroke-width="0.85" fill="none"/>
<text x="451.4" y="427.99" font-family="Liberation Sans, Arial, sans-serif" stroke="#111" stroke-width="0.35" font-size="9.3" font-style="italic" fill="#111">Txnrd3</text>
<rect x="276.22" y="431.72" width="52.48" height="5.30" fill="#6a6a6a" stroke="#1c1c1c" stroke-width="0.9"/>
<path d="M270.46 434.37H281.98M270.46 432.47V436.27M281.98 432.47V436.27" stroke="#111" stroke-width="0.85" fill="none"/>
<rect x="328.70" y="438.27" width="42.88" height="4.60" fill="url(#lt)" stroke="#1c1c1c" stroke-width="0.9"/>
<rect x="361.98" y="438.27" width="9.60" height="4.60" fill="#fff" stroke="#1e1e1e" stroke-width="0.8"/>
<path d="M371.58 440.57H381.18M381.18 438.67V442.47" stroke="#111" stroke-width="0.85" fill="none"/>
<text x="451.4" y="440.31" font-family="Liberation Sans, Arial, sans-serif" stroke="#111" stroke-width="0.35" font-size="9.3" font-style="italic" fill="#111">Pgcp</text>
<rect x="298.30" y="444.01" width="30.40" height="5.30" fill="#6a6a6a" stroke="#1c1c1c" stroke-width="0.9"/>
<rect x="328.70" y="450.56" width="44.80" height="4.60" fill="url(#lt)" stroke="#1c1c1c" stroke-width="0.9"/>
<rect x="367.10" y="450.56" width="6.40" height="4.60" fill="#fff" stroke="#1e1e1e" stroke-width="0.8"/>
<path d="M373.50 452.86H379.90M379.90 450.96V454.76" stroke="#111" stroke-width="0.85" fill="none"/>
<text x="451.4" y="452.63" font-family="Liberation Sans, Arial, sans-serif" stroke="#111" stroke-width="0.35" font-size="9.3" font-style="italic" fill="#111">Uaca</text>
<rect x="300.54" y="456.30" width="28.16" height="5.30" fill="#6a6a6a" stroke="#1c1c1c" stroke-width="0.9"/>
<rect x="328.70" y="462.85" width="47.20" height="4.60" fill="url(#lt)" stroke="#1c1c1c" stroke-width="0.9"/>
<rect x="366.30" y="462.85" width="9.60" height="4.60" fill="#fff" stroke="#1e1e1e" stroke-width="0.8"/>
<path d="M375.90 465.15H385.50M385.50 463.25V467.05" stroke="#111" stroke-width="0.85" fill="none"/>
<text x="451.4" y="464.95" font-family="Liberation Sans, Arial, sans-serif" stroke="#111" stroke-width="0.35" font-size="9.3" font-style="italic" fill="#111">Trib3</text>
<rect x="281.02" y="468.59" width="47.68" height="5.30" fill="#6a6a6a" stroke="#1c1c1c" stroke-width="0.9"/>
<path d="M275.10 471.24H286.94M275.10 469.34V473.14M286.94 469.34V473.14" stroke="#111" stroke-width="0.85" fill="none"/>
<rect x="328.70" y="475.14" width="47.52" height="4.60" fill="url(#lt)" stroke="#1c1c1c" stroke-width="0.9"/>
<text x="451.4" y="477.27" font-family="Liberation Sans, Arial, sans-serif" stroke="#111" stroke-width="0.35" font-size="9.3" font-style="italic" fill="#111">4922502D21Rik</text>
<rect x="300.70" y="480.88" width="28.00" height="5.30" fill="#6a6a6a" stroke="#1c1c1c" stroke-width="0.9"/>
<rect x="328.70" y="487.43" width="47.84" height="4.60" fill="url(#lt)" stroke="#1c1c1c" stroke-width="0.9"/>
<rect x="373.66" y="487.43" width="2.88" height="4.60" fill="#fff" stroke="#1e1e1e" stroke-width="0.8"/>
<path d="M376.54 489.73H379.42M379.42 487.83V491.63" stroke="#111" stroke-width="0.85" fill="none"/>
<text x="451.4" y="489.59" font-family="Liberation Sans, Arial, sans-serif" stroke="#111" stroke-width="0.35" font-size="9.3" font-style="italic" fill="#111">Gfra2</text>
<rect x="297.34" y="493.17" width="31.36" height="5.30" fill="#6a6a6a" stroke="#1c1c1c" stroke-width="0.9"/>
<path d="M294.62 495.82H300.06M294.62 493.92V497.72M300.06 493.92V497.72" stroke="#111" stroke-width="0.85" fill="none"/>
<rect x="328.70" y="499.72" width="52.16" height="4.60" fill="url(#lt)" stroke="#1c1c1c" stroke-width="0.9"/>
<rect x="375.42" y="499.72" width="5.44" height="4.60" fill="#fff" stroke="#1e1e1e" stroke-width="0.8"/>
<path d="M380.86 502.02H386.30M386.30 500.12V503.92" stroke="#111" stroke-width="0.85" fill="none"/>
<text x="451.4" y="501.91" font-family="Liberation Sans, Arial, sans-serif" stroke="#111" stroke-width="0.35" font-size="9.3" font-style="italic" fill="#111">Crhbp</text>
<rect x="296.22" y="505.46" width="32.48" height="5.30" fill="#6a6a6a" stroke="#1c1c1c" stroke-width="0.9"/>
<path d="M294.46 508.11H297.98M294.46 506.21V510.01M297.98 506.21V510.01" stroke="#111" stroke-width="0.85" fill="none"/>
<rect x="328.70" y="512.01" width="62.24" height="4.60" fill="url(#lt)" stroke="#1c1c1c" stroke-width="0.9"/>
<rect x="387.42" y="512.01" width="3.52" height="4.60" fill="#fff" stroke="#1e1e1e" stroke-width="0.8"/>
<path d="M390.94 514.31H394.46M394.46 512.41V516.21" stroke="#111" stroke-width="0.85" fill="none"/>
<text x="451.4" y="514.23" font-family="Liberation Sans, Arial, sans-serif" stroke="#111" stroke-width="0.35" font-size="9.3" font-style="italic" fill="#111">Gp9</text>
<line x1="328.7" y1="25.4" x2="328.7" y2="518.0" stroke="#0a0a0a" stroke-width="1.3"/>
<line x1="232.6" y1="518.0" x2="440.8" y2="518.0" stroke="#222" stroke-width="0.9"/>
<line x1="232.70" y1="518.0" x2="232.70" y2="520.0" stroke="#222" stroke-width="0.9"/>
<text x="230.10" y="532" font-family="Liberation Sans, Arial, sans-serif" stroke="#111" stroke-width="0.35" font-size="9" fill="#111" textLength="6.2" lengthAdjust="spacingAndGlyphs">-6</text>
<line x1="232.70" y1="516.4" x2="232.70" y2="518.0" stroke="#222" stroke-width="0.9"/>
<line x1="248.70" y1="518.0" x2="248.70" y2="520.0" stroke="#222" stroke-width="0.9"/>
<text x="246.10" y="532" font-family="Liberation Sans, Arial, sans-serif" stroke="#111" stroke-width="0.35" font-size="9" fill="#111" textLength="6.2" lengthAdjust="spacingAndGlyphs">-5</text>
<line x1="248.70" y1="516.4" x2="248.70" y2="518.0" stroke="#222" stroke-width="0.9"/>
<line x1="264.70" y1="518.0" x2="264.70" y2="520.0" stroke="#222" stroke-width="0.9"/>
<text x="262.10" y="532" font-family="Liberation Sans, Arial, sans-serif" stroke="#111" stroke-width="0.35" font-size="9" fill="#111" textLength="6.2" lengthAdjust="spacingAndGlyphs">-4</text>
<line x1="264.70" y1="516.4" x2="264.70" y2="518.0" stroke="#222" stroke-width="0.9"/>
<line x1="280.70" y1="518.0" x2="280.70" y2="520.0" stroke="#222" stroke-width="0.9"/>
<text x="278.10" y="532" font-family="Liberation Sans, Arial, sans-serif" stroke="#111" stroke-width="0.35" font-size="9" fill="#111" textLength="6.2" lengthAdjust="spacingAndGlyphs">-3</text>
<line x1="280.70" y1="516.4" x2="280.70" y2="518.0" stroke="#222" stroke-width="0.9"/>
<line x1="296.70" y1="518.0" x2="296.70" y2="520.0" stroke="#222" stroke-width="0.9"/>
<text x="294.10" y="532" font-family="Liberation Sans, Arial, sans-serif" stroke="#111" stroke-width="0.35" font-size="9" fill="#111" textLength="6.2" lengthAdjust="spacingAndGlyphs">-2</text>
<line x1="296.70" y1="516.4" x2="296.70" y2="518.0" stroke="#222" stroke-width="0.9"/>
<line x1="312.70" y1="518.0" x2="312.70" y2="520.0" stroke="#222" stroke-width="0.9"/>
<text x="310.10" y="532" font-family="Liberation Sans, Arial, sans-serif" stroke="#111" stroke-width="0.35" font-size="9" fill="#111" textLength="6.2" lengthAdjust="spacingAndGlyphs">-1</text>
<line x1="312.70" y1="516.4" x2="312.70" y2="518.0" stroke="#222" stroke-width="0.9"/>
<line x1="328.70" y1="518.0" x2="328.70" y2="520.0" stroke="#222" stroke-width="0.9"/>
<text x="328.70" y="532" font-family="Liberation Sans, Arial, sans-serif" stroke="#111" stroke-width="0.35" font-size="9" text-anchor="middle" fill="#111">0</text>
<line x1="328.70" y1="516.4" x2="328.70" y2="518.0" stroke="#222" stroke-width="0.9"/>
<line x1="344.70" y1="518.0" x2="344.70" y2="520.0" stroke="#222" stroke-width="0.9"/>
<text x="344.70" y="532" font-family="Liberation Sans, Arial, sans-serif" stroke="#111" stroke-width="0.35" font-size="9" text-anchor="middle" fill="#111">1</text>
<line x1="344.70" y1="516.4" x2="344.70" y2="518.0" stroke="#222" stroke-width="0.9"/>
<line x1="360.70" y1="518.0" x2="360.70" y2="520.0" stroke="#222" stroke-width="0.9"/>
<text x="360.70" y="532" font-family="Liberation Sans, Arial, sans-serif" stroke="#111" stroke-width="0.35" font-size="9" text-anchor="middle" fill="#111">2</text>
<line x1="360.70" y1="516.4" x2="360.70" y2="518.0" stroke="#222" stroke-width="0.9"/>
<line x1="376.70" y1="518.0" x2="376.70" y2="520.0" stroke="#222" stroke-width="0.9"/>
<text x="376.70" y="532" font-family="Liberation Sans, Arial, sans-serif" stroke="#111" stroke-width="0.35" font-size="9" text-anchor="middle" fill="#111">3</text>
<line x1="376.70" y1="516.4" x2="376.70" y2="518.0" stroke="#222" stroke-width="0.9"/>
<line x1="392.70" y1="518.0" x2="392.70" y2="520.0" stroke="#222" stroke-width="0.9"/>
<text x="392.70" y="532" font-family="Liberation Sans, Arial, sans-serif" stroke="#111" stroke-width="0.35" font-size="9" text-anchor="middle" fill="#111">4</text>
<line x1="392.70" y1="516.4" x2="392.70" y2="518.0" stroke="#222" stroke-width="0.9"/>
<line x1="408.70" y1="518.0" x2="408.70" y2="520.0" stroke="#222" stroke-width="0.9"/>
<text x="408.70" y="532" font-family="Liberation Sans, Arial, sans-serif" stroke="#111" stroke-width="0.35" font-size="9" text-anchor="middle" fill="#111">5</text>
<line x1="408.70" y1="516.4" x2="408.70" y2="518.0" stroke="#222" stroke-width="0.9"/>
<line x1="424.70" y1="518.0" x2="424.70" y2="520.0" stroke="#222" stroke-width="0.9"/>
<text x="424.70" y="532" font-family="Liberation Sans, Arial, sans-serif" stroke="#111" stroke-width="0.35" font-size="9" text-anchor="middle" fill="#111">6</text>
<line x1="424.70" y1="516.4" x2="424.70" y2="518.0" stroke="#222" stroke-width="0.9"/>
<line x1="440.70" y1="518.0" x2="440.70" y2="520.0" stroke="#222" stroke-width="0.9"/>
<text x="440.70" y="532" font-family="Liberation Sans, Arial, sans-serif" stroke="#111" stroke-width="0.35" font-size="9" text-anchor="middle" fill="#111">7</text>
<line x1="440.70" y1="516.4" x2="440.70" y2="518.0" stroke="#222" stroke-width="0.9"/>
<text x="265.5" y="544.5" font-family="Liberation Sans, Arial, sans-serif" stroke="#111" stroke-width="0.35" font-size="10.6" fill="#111" textLength="161.5" lengthAdjust="spacingAndGlyphs">Relative gene expression (log2)</text>
<rect x="282.4" y="5" width="4.7" height="5.2" fill="#666" stroke="#333" stroke-width="0.9"/>
<text x="290" y="12.3" font-family="Liberation Sans, Arial, sans-serif" stroke="#111" stroke-width="0.35" font-size="9.8" font-style="italic" fill="#111" textLength="54.2" lengthAdjust="spacingAndGlyphs">RUNX1-ERt2</text>
<rect x="364.9" y="5" width="4.7" height="5.2" fill="#ddd" stroke="#3a3a3a" stroke-width="0.9"/>
<text x="372.5" y="12.3" font-family="Liberation Sans, Arial, sans-serif" stroke="#111" stroke-width="0.35" font-size="9.6" fill="#111"><tspan font-style="italic" textLength="25.6" lengthAdjust="spacingAndGlyphs">Runx1</tspan><tspan x="399.2" font-size="8.4" dy="-3.3" stroke="none" font-family="Liberation Serif, serif" textLength="13.4" lengthAdjust="spacingAndGlyphs">Δ/Δ</tspan></text>
</svg>
</body></html>
